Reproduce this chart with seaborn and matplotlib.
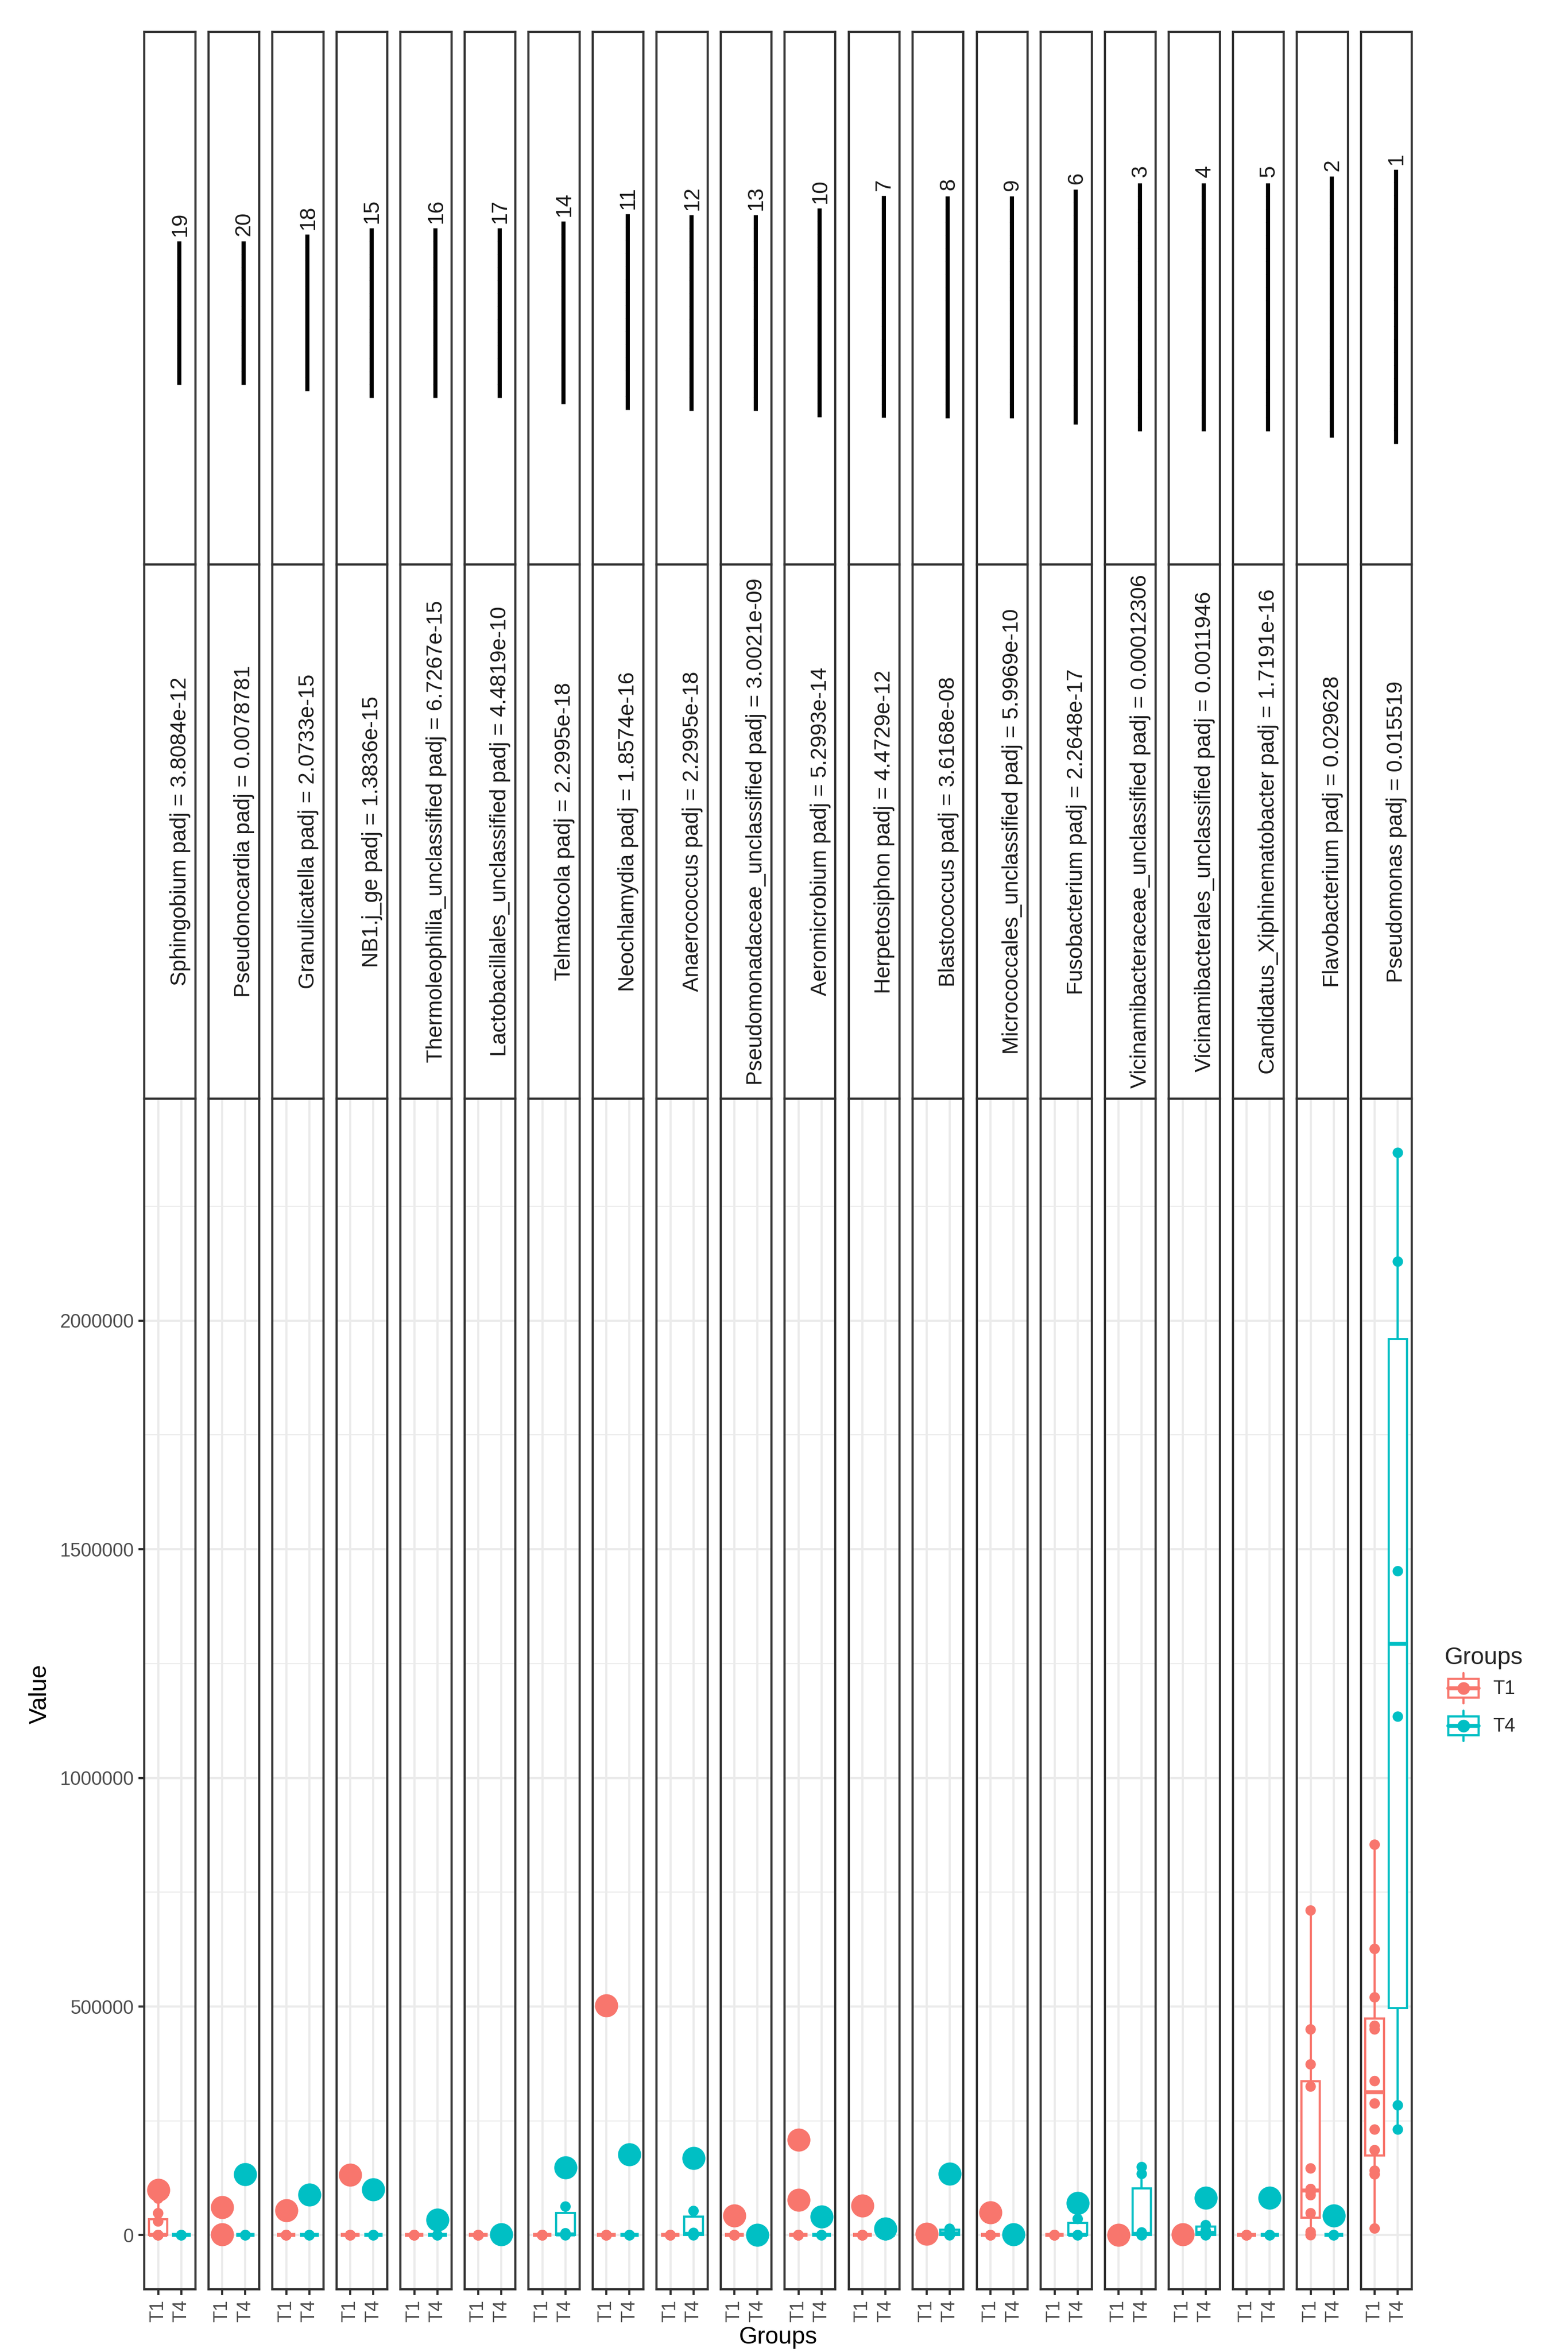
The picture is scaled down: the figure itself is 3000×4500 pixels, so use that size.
import numpy as np
import pandas as pd
import matplotlib
matplotlib.use("Agg")
import matplotlib.pyplot as plt
import seaborn as sns
from matplotlib.patches import Rectangle
from matplotlib.lines import Line2D
from matplotlib.legend_handler import HandlerBase
from matplotlib.textpath import TextPath
from matplotlib.font_manager import FontProperties
from matplotlib.ticker import FixedLocator

# ---------------- data ----------------
genera = ["Sphingobium", "Pseudonocardia", "Granulicatella", "NB1.j_ge",
          "Thermoleophilia_unclassified", "Lactobacillales_unclassified",
          "Telmatocola", "Neochlamydia", "Anaerococcus",
          "Pseudomonadaceae_unclassified", "Aeromicrobium", "Herpetosiphon",
          "Blastococcus", "Micrococcales_unclassified", "Fusobacterium",
          "Vicinamibacteraceae_unclassified", "Vicinamibacterales_unclassified",
          "Candidatus_Xiphinematobacter", "Flavobacterium", "Pseudomonas"]
padj = ["3.8084e-12", "0.0078781", "2.0733e-15", "1.3836e-15", "6.7267e-15",
        "4.4819e-10", "2.2995e-18", "1.8574e-16", "2.2995e-18", "3.0021e-09",
        "5.2993e-14", "4.4729e-12", "3.6168e-08", "5.9969e-10", "2.2648e-17",
        "0.00012306", "0.0011946", "1.7191e-16", "0.029628", "0.015519"]
rank_labels = ["19", "20", "18", "15", "16", "17", "14", "11", "12", "13",
               "10", "7", "8", "9", "6", "3", "4", "5", "2", "1"]
bar_blocks = [11, 11, 12, 13, 13, 13, 14, 15, 15, 15,
              16, 17, 17, 17, 18, 19, 19, 19, 20, 21]

group_names = ["T1", "T4"]
group_colors = ["#F8766D", "#00BFC4"]

t1_values = [
    [0, 0, 0, 0, 0, 0, 0, 0, 30000, 48000, 80000, 98500],
    [0, 0, 0, 0, 0, 0, 0, 0, 0, 0, 1500, 60700],
    [0, 0, 0, 0, 0, 0, 0, 0, 0, 0, 0, 54000],
    [0, 0, 0, 0, 0, 0, 0, 0, 0, 0, 0, 132400],
    [0, 0, 0, 0, 0, 0, 0, 0, 0, 0, 0, 0],
    [0, 0, 0, 0, 0, 0, 0, 0, 0, 0, 0, 0],
    [0, 0, 0, 0, 0, 0, 0, 0, 0, 0, 0, 0],
    [0, 0, 0, 0, 0, 0, 0, 0, 0, 0, 0, 502000],
    [0, 0, 0, 0, 0, 0, 0, 0, 0, 0, 0, 0],
    [0, 0, 0, 0, 0, 0, 0, 0, 0, 0, 0, 43000],
    [0, 0, 0, 0, 0, 0, 0, 0, 0, 0, 77600, 208000],
    [0, 0, 0, 0, 0, 0, 0, 0, 0, 0, 0, 64600],
    [0, 0, 0, 0, 0, 0, 0, 0, 0, 0, 0, 2800],
    [0, 0, 0, 0, 0, 0, 0, 0, 0, 0, 0, 50000],
    [0, 0, 0, 0, 0, 0, 0, 0, 0, 0, 0, 0],
    [0, 0, 0, 0, 0, 0, 0, 0, 0, 0, 0, 800],
    [0, 0, 0, 0, 0, 0, 0, 0, 0, 0, 0, 1600],
    [0, 0, 0, 0, 0, 0, 0, 0, 0, 0, 0, 0],
    [0, 2000, 7000, 48000, 87500, 93600, 101000, 146000, 325000, 373500, 450000, 710000],
    [14600, 133000, 141000, 186000, 231000, 288000, 337000, 450000, 458000, 520000, 626000, 854000],
]
t4_values = [
    [0, 0, 0, 0, 0, 0],
    [0, 0, 0, 0, 0, 133600],
    [0, 0, 0, 0, 0, 88700],
    [0, 0, 0, 0, 0, 100500],
    [0, 0, 0, 0, 0, 33500],
    [0, 0, 0, 0, 0, 1600],
    [0, 0, 0, 4200, 62600, 148500],
    [0, 0, 0, 0, 0, 177000],
    [0, 0, 0, 5000, 53000, 168000],
    [0, 0, 0, 0, 0, 800],
    [0, 0, 0, 0, 0, 41000],
    [0, 0, 0, 0, 0, 13800],
    [0, 0, 0, 8000, 14000, 134000],
    [0, 0, 0, 0, 0, 1600],
    [0, 0, 0, 0, 35500, 70500],
    [0, 0, 0, 6000, 134000, 149000],
    [0, 0, 0, 10000, 22000, 81600],
    [0, 0, 0, 0, 0, 82000],
    [0, 0, 0, 0, 0, 43000],
    [231000, 284000, 1134000, 1452000, 2129000, 2367000],
]
y_ticks = [0, 500000, 1000000, 1500000, 2000000]
y_tick_labels = ["0", "500000", "1000000", "1500000", "2000000"]

# ---------------- style ----------------
sns.set_theme(style="white")
plt.rcParams["font.family"] = ["Liberation Sans", "DejaVu Sans"]

W, H, DPI = 3000, 4500, 300
fig = plt.figure(figsize=(W / DPI, H / DPI), dpi=DPI)
fig.patch.set_facecolor("white")


def fx(x):
    return x / W


def fy(y):
    return 1 - y / H


P_LEFT0, P_PITCH, P_W = 276, 122.5, 97.5
P_TOP, P_BOT = 2102, 4380
S1_TOP, S1_BOT, S2_BOT = 61, 1080, 2102

border = "#333333"
grid_c = "#EBEBEB"
tick_c = "#4D4D4D"
strip_txt_c = "#1A1A1A"

all_vals = np.concatenate([np.concatenate([a, b]) for a, b in zip(t1_values, t4_values)])
vmin, vmax = all_vals.min(), all_vals.max()
pad = 0.05 * (vmax - vmin)
ylim = (vmin - pad, vmax + pad)
minor_ticks = [t + 250000 for t in y_ticks]

# glyph metrics for the strip bars
BAR_CHAR = "\u2582"
prop_bar = FontProperties(family="DejaVu Sans")
e1 = TextPath((0, 0), BAR_CHAR, size=1, prop=prop_bar).get_extents()
e2 = TextPath((0, 0), BAR_CHAR * 2, size=1, prop=prop_bar).get_extents()
pitch_em = e2.width - e1.width
if pitch_em <= 0:
    pitch_em = e1.width
bar_fs_px = 25.0 / pitch_em
bar_fs_pt = bar_fs_px * 72 / DPI
bar_mid = (e1.y0 + e1.y1) / 2 * bar_fs_px
prop_num = FontProperties(family="Liberation Sans")
num_fs_pt = 10
num_fs_px = num_fs_pt * DPI / 72

for i, g in enumerate(genera):
    left = P_LEFT0 + i * P_PITCH
    cx = left + P_W / 2
    ax = fig.add_axes([fx(left), fy(P_BOT), P_W / W, (P_BOT - P_TOP) / H])
    df = pd.DataFrame({
        "Groups": ["T1"] * len(t1_values[i]) + ["T4"] * len(t4_values[i]),
        "Value": list(t1_values[i]) + list(t4_values[i]),
    })
    for grp, col in zip(group_names, group_colors):
        sub = df[df["Groups"] == grp]
        sns.boxplot(data=sub, x="Groups", y="Value", order=group_names,
                    color=col, linecolor=col, saturation=1, width=0.8,
                    linewidth=1.0, showcaps=False, fliersize=9.6,
                    boxprops=dict(facecolor="white", edgecolor=col, linewidth=1.0),
                    medianprops=dict(color=col, linewidth=1.8),
                    whiskerprops=dict(color=col, linewidth=1.0),
                    flierprops=dict(marker="o", markerfacecolor=col,
                                    markeredgecolor=col, markersize=9.6),
                    ax=ax)
    sns.stripplot(data=df, x="Groups", y="Value", order=group_names,
                  hue="Groups", hue_order=group_names, palette=group_colors,
                  jitter=False, size=4.8, linewidth=0, legend=False, ax=ax,
                  zorder=4)
    ax.set_xlim(-0.6, 1.6)
    ax.set_ylim(*ylim)
    ax.set_xticks([0, 1])
    ax.set_xticklabels(group_names, rotation=90)
    ax.set_yticks(y_ticks)
    ax.yaxis.set_minor_locator(FixedLocator(minor_ticks))
    ax.set_axisbelow(True)
    ax.grid(True, which="major", color=grid_c, linewidth=1.0)
    ax.grid(True, which="minor", axis="y", color=grid_c, linewidth=0.5)
    ax.tick_params(which="minor", length=0)
    ax.tick_params(axis="x", bottom=True, length=2.64, width=1.0, color=border,
                   pad=2.2, labelsize=8.8, labelcolor=tick_c)
    if i == 0:
        ax.set_yticklabels(y_tick_labels)
        ax.tick_params(axis="y", left=True, length=2.64, width=1.0, color=border,
                       pad=2.2, labelsize=8.8, labelcolor=tick_c)
    else:
        ax.tick_params(axis="y", which="both", left=False, labelleft=False)
    for s in ax.spines.values():
        s.set_visible(True)
        s.set_color(border)
        s.set_linewidth(1.0)
    ax.set_xlabel("")
    ax.set_ylabel("")

    # strips
    for top, bot in [(S1_TOP, S1_BOT), (S1_BOT, S2_BOT)]:
        sax = fig.add_axes([fx(left), fy(bot), P_W / W, (bot - top) / H])
        sax.set_xticks([])
        sax.set_yticks([])
        sax.set_facecolor("white")
        for s in sax.spines.values():
            s.set_visible(True)
            s.set_color(border)
            s.set_linewidth(1.0)

    fig.text(fx(cx + 31), fy((S1_BOT + S2_BOT) / 2), f"{g} padj = {padj[i]}",
             rotation=90, rotation_mode="anchor", ha="center", va="baseline",
             fontsize=10, color=strip_txt_c)

    # upper strip: bar of glyphs + rank number
    n = bar_blocks[i]
    en = TextPath((0, 0), rank_labels[i], size=1, prop=prop_num).get_extents()
    l_num = en.width * num_fs_px
    l_bar = n * 25.0
    total = l_bar + 14 + l_num
    yc = (S1_TOP + S1_BOT) / 2
    fig.text(fx(cx + 20 + bar_mid), fy(yc + total / 2), BAR_CHAR * n,
             rotation=90, rotation_mode="anchor", ha="left", va="baseline",
             fontsize=bar_fs_pt, family="DejaVu Sans", color="black")
    fig.text(fx(cx + 31), fy(yc - total / 2), rank_labels[i],
             rotation=90, rotation_mode="anchor", ha="right", va="baseline",
             fontsize=num_fs_pt, color=strip_txt_c)

# axis titles
fig.text(fx(77), fy((P_TOP + P_BOT) / 2), "Value", rotation=90,
         ha="center", va="center", fontsize=11, color="black")
fig.text(fx(P_LEFT0 + (19 * P_PITCH + P_W) / 2), fy(4472), "Groups",
         ha="center", va="center", fontsize=11, color="black")


# legend
class BoxKeyHandler(HandlerBase):
    def create_artists(self, legend, orig_handle, xdescent, ydescent,
                       width, height, fontsize, trans):
        col = orig_handle.get_color()
        x0, y0 = -xdescent, -ydescent
        w, h = width, height
        arts = [
            Line2D([x0 + w / 2, x0 + w / 2], [y0 + 0.1 * h, y0 + 0.9 * h],
                   color=col, lw=1.0),
            Rectangle((x0 + 0.1 * w, y0 + 0.25 * h), 0.8 * w, 0.5 * h,
                      facecolor="white", edgecolor=col, lw=1.0),
            Line2D([x0 + 0.1 * w, x0 + 0.9 * w], [y0 + h / 2, y0 + h / 2],
                   color=col, lw=1.8),
            Line2D([x0 + w / 2], [y0 + h / 2], marker="o", ms=4.8,
                   linestyle="none", color=col),
        ]
        for a in arts:
            a.set_transform(trans)
        return arts


handles = [Line2D([], [], color=c) for c in group_colors]
key_len = 17.28 / 8.8
key_h = (17.28 / 8.8 - 0.245) / 0.65
fig.legend(handles=handles, labels=group_names,
           handler_map={Line2D: BoxKeyHandler()},
           title="Groups", loc="upper left",
           bbox_to_anchor=(fx(2764), fy(3150)), frameon=False,
           fontsize=8.8, title_fontsize=11, handlelength=key_len,
           handleheight=key_h, handletextpad=0.55, labelspacing=0,
           borderpad=0, borderaxespad=0, alignment="left")

fig.savefig("out.png", dpi=DPI, facecolor="white")
